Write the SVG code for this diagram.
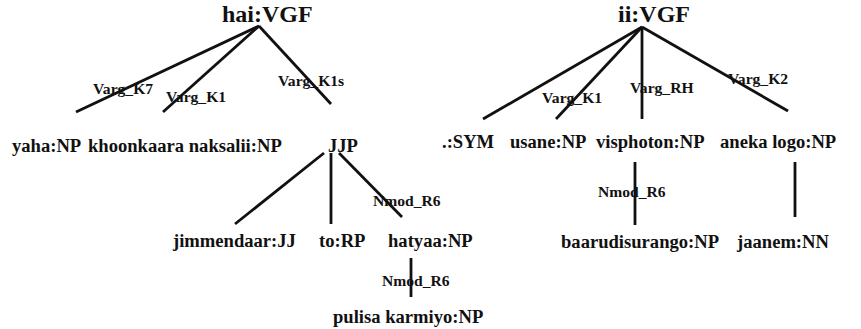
<svg xmlns="http://www.w3.org/2000/svg" width="861" height="329" viewBox="0 0 861 329">
<style>
text{font-family:"Liberation Serif","Times New Roman",serif;font-weight:bold;fill:#111}
.t{font-size:24px}
.n{font-size:18.6px}
.l{font-size:15.6px}
#edges line{stroke:#111;stroke-width:2.8;stroke-linecap:butt}
</style>
<rect width="861" height="329" fill="#fff"/>
<g id="edges">
<line x1="259" y1="26" x2="76" y2="112"/>
<line x1="259" y1="26" x2="163" y2="112"/>
<line x1="259" y1="26" x2="331" y2="104"/>
<line x1="324" y1="153" x2="235" y2="224"/>
<line x1="331" y1="153" x2="331" y2="224"/>
<line x1="339" y1="153" x2="402" y2="217"/>
<line x1="411" y1="258" x2="411" y2="297"/>
<line x1="642" y1="27" x2="483" y2="119"/>
<line x1="642" y1="27" x2="556" y2="119"/>
<line x1="642" y1="27" x2="642" y2="119"/>
<line x1="642" y1="27" x2="788" y2="111"/>
<line x1="635" y1="162" x2="635" y2="225"/>
<line x1="795" y1="162" x2="795" y2="217"/>
</g>
<g id="labels">
<text class="l" x="93" y="94">Varg_K7</text>
<text class="l" x="166" y="102">Varg_K1</text>
<text class="l" x="278" y="86">Varg_K1s</text>
<text class="l" x="373" y="206">Nmod_R6</text>
<text class="l" x="382" y="286">Nmod_R6</text>
<text class="l" x="542" y="103">Varg_K1</text>
<text class="l" x="630" y="93">Varg_RH</text>
<text class="l" x="728" y="84">Varg_K2</text>
<text class="l" x="598" y="197">Nmod_R6</text>
</g>
<g id="hai"><text class="t" x="222" y="22">hai:VGF</text></g>
<g id="yaha"><text class="n" x="12" y="152">yaha:NP</text></g>
<g id="khoonkaara"><text class="n" x="88" y="152">khoonkaara naksalii:NP</text></g>
<g id="JJP"><text class="n" x="328" y="152">JJP</text></g>
<g id="jimmendaar"><text class="n" x="173" y="247">jimmendaar:JJ</text></g>
<g id="to"><text class="n" x="319" y="247">to:RP</text></g>
<g id="hatyaa"><text class="n" x="388" y="247">hatyaa:NP</text></g>
<g id="pulisa"><text class="n" x="333" y="323">pulisa karmiyo:NP</text></g>
<g id="ii"><text class="t" x="618" y="22">ii:VGF</text></g>
<g id="sym"><text class="n" x="442" y="148">.:SYM</text></g>
<g id="usane"><text class="n" x="510" y="148">usane:NP</text></g>
<g id="visphoton"><text class="n" x="596" y="148">visphoton:NP</text></g>
<g id="aneka"><text class="n" x="720" y="148">aneka logo:NP</text></g>
<g id="baarudisurango"><text class="n" x="561" y="248">baarudisurango:NP</text></g>
<g id="jaanem"><text class="n" x="737" y="248">jaanem:NN</text></g>
</svg>
